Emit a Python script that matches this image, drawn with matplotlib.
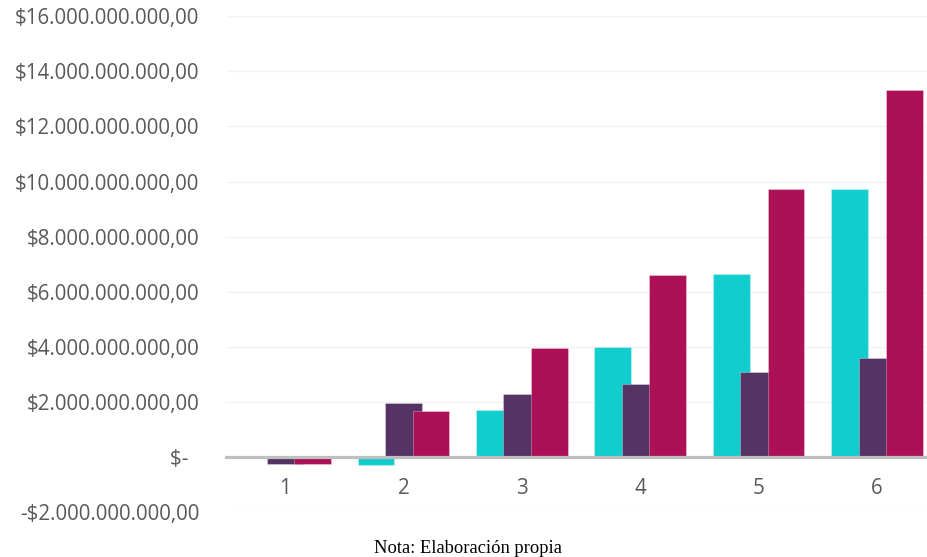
import numpy as np
import matplotlib
matplotlib.use('Agg')
import matplotlib.pyplot as plt

# periods and the three series per period (in pesos)
periods = [1, 2, 3, 4, 5, 6]
saldo_inicial = [0.0e9, -0.29e9, 1.71e9, 3.99e9, 6.63e9, 9.72e9]
flujo = [-0.25e9, 1.95e9, 2.29e9, 2.65e9, 3.10e9, 3.58e9]
saldo_final = [-0.25e9, 1.67e9, 3.96e9, 6.60e9, 9.72e9, 13.31e9]

ytick_vals = [-2e9, 0, 2e9, 4e9, 6e9, 8e9, 10e9, 12e9, 14e9, 16e9]
ytick_labels = ['-$2.000.000.000,00', '$-  ', '$2.000.000.000,00',
                '$4.000.000.000,00', '$6.000.000.000,00', '$8.000.000.000,00',
                '$10.000.000.000,00', '$12.000.000.000,00',
                '$14.000.000.000,00', '$16.000.000.000,00']

colors = ['#11CDCD', '#553364', '#AC1157']
text_gray = '#595959'

fig = plt.figure(figsize=(9.28, 5.57), dpi=100)
ax = fig.add_axes([0.2433, 0.0804, 0.7567, 0.8905])

x = np.array(periods, dtype=float)
width = 0.31
step = 0.232
for i, (vals, c) in enumerate(zip([saldo_inicial, flujo, saldo_final], colors)):
    ax.bar(x + (i - 1) * step, vals, width=width, color=c,
           edgecolor=(1, 1, 1, 0.35), linewidth=0.6, zorder=2 + i)

ax.set_xlim(0.5, 6.43)
ax.set_ylim(-2e9, 16e9)

ax.set_yticks(ytick_vals)
ax.set_yticklabels(ytick_labels)
ax.set_xticks(periods)
ax.set_xticklabels([str(p) for p in periods])

for sp in ['top', 'right', 'left']:
    ax.spines[sp].set_visible(False)
ax.spines['bottom'].set_position(('data', 0))
ax.spines['bottom'].set_color('#BFBFBF')
ax.spines['bottom'].set_linewidth(2.3)
ax.spines['bottom'].set_zorder(6)

ax.yaxis.grid(True, color='#F2F2F2', linewidth=1.0)
ax.set_axisbelow(True)

ax.tick_params(axis='both', length=0, colors=text_gray, labelsize=14.8)
ax.tick_params(axis='y', pad=19)
ax.tick_params(axis='x', pad=15)
for lab in ax.get_xticklabels() + ax.get_yticklabels():
    lab.set_family('Open Sans')

fig.text(0.504, 0.016, 'Nota: Elaboración propia', ha='center', va='center',
         family='Liberation Serif', fontsize=13.3, color='black')

fig.savefig('out.png', dpi=100)
